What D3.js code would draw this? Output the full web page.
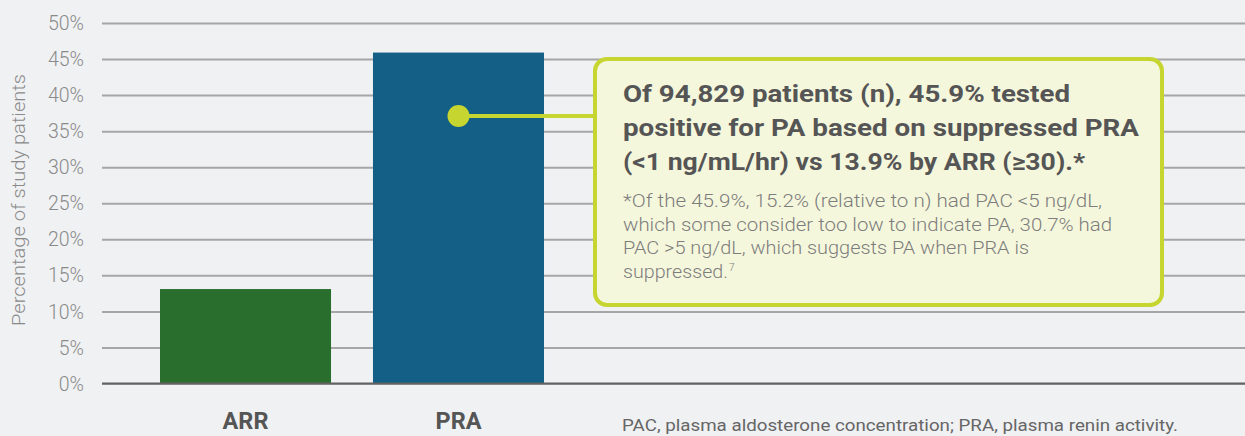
<!DOCTYPE html>
<html><head><meta charset="utf-8">
<script src="https://cdn.jsdelivr.net/npm/d3@7/dist/d3.min.js"></script>
<style>body{margin:0;background:#f0f1f3;}svg{display:block;}</style>
</head><body>
<svg id="c" width="1245" height="436"></svg>
<script>
const categories = ["ARR", "PRA"];
const values = [13.1, 45.9];
const colors = ["#2a6e2e", "#135f85"];
const yTicks = [0,5,10,15,20,25,30,35,40,45,50];
const yTitle = "Percentage of study patients";
const calloutTitle = ["Of 94,829 patients (n), 45.9% tested", "positive for PA based on suppressed PRA", "(<1 ng/mL/hr) vs 13.9% by ARR (≥30).*"];
const calloutNote = ["*Of the 45.9%, 15.2% (relative to n) had PAC <5 ng/dL,", "which some consider too low to indicate PA, 30.7% had", "PAC >5 ng/dL, which suggests PA when PRA is", "suppressed."];
const footnote = "PAC, plasma aldosterone concentration; PRA, plasma renin activity.";

const svg = d3.select("#c");
const W = 1245;
svg.append("rect").attr("width", W).attr("height", 436).attr("fill", "#f0f1f3");

const y = d3.scaleLinear().domain([0, 50]).range([383.5, 23]);
const x = d3.scaleBand().domain(categories).range([138.7, 565.3]).paddingInner(0.197).paddingOuter(0.1);

// gridlines
const yAxis = d3.axisLeft(y).tickValues(yTicks).tickFormat(d => d + "%").tickSize(-(W - 102)).tickPadding(18);
const ga = svg.append("g").attr("transform", "translate(102,0)").call(yAxis);
ga.select(".domain").remove();
ga.selectAll(".tick line").attr("stroke", "#a6a6a6").attr("stroke-width", 2);
ga.selectAll(".tick text").attr("fill", "#8a8a8a").attr("font-family", "Roboto, sans-serif").attr("font-weight", 300).attr("font-size", 19.5).attr("dy", "0.34em");

// bars
svg.selectAll("rect.bar").data(categories).enter().append("rect").attr("class", "bar")
  .attr("x", d => x(d)).attr("width", x.bandwidth())
  .attr("y", (d, i) => y(values[i])).attr("height", (d, i) => y(0) - y(values[i]))
  .attr("fill", (d, i) => colors[i]);

// zero line
svg.append("line").attr("x1", 102).attr("x2", W).attr("y1", y(0)).attr("y2", y(0)).attr("stroke", "#626262").attr("stroke-width", 2);

// category labels
svg.selectAll("text.cat").data(categories).enter().append("text").attr("class", "cat")
  .attr("x", d => x(d) + x.bandwidth() / 2).attr("y", 429).attr("text-anchor", "middle")
  .attr("font-family", "Roboto, sans-serif").attr("font-weight", 700).attr("font-size", 23.5).attr("fill", "#555")
  .text(d => d);

// y title
svg.append("text").attr("transform", "translate(25,200) rotate(-90)").attr("text-anchor", "middle")
  .attr("font-family", "Roboto, sans-serif").attr("font-weight", 300).attr("font-size", 19).attr("fill", "#8a8a8a")
  .attr("textLength", 252).attr("lengthAdjust", "spacingAndGlyphs").text(yTitle);

// callout connector
const dotY = 116;
const dotX = x("PRA") + x.bandwidth() / 2;
svg.append("line").attr("x1", dotX).attr("x2", 596).attr("y1", dotY).attr("y2", dotY).attr("stroke", "#c6d52f").attr("stroke-width", 4);
svg.append("circle").attr("cx", dotX).attr("cy", dotY).attr("r", 11).attr("fill", "#c6d52f");

// callout box
svg.append("rect").attr("x", 595).attr("y", 59).attr("width", 567).attr("height", 246).attr("rx", 12)
  .attr("fill", "#f5f7dc").attr("stroke", "#c6d52f").attr("stroke-width", 4);

const titleW = [447, 516, 462];
calloutTitle.forEach((t, i) => {
  svg.append("text").attr("x", 623).attr("y", 102 + i * 34)
    .attr("font-family", "Roboto, sans-serif").attr("font-weight", 700).attr("font-size", 24.5).attr("fill", "#555")
    .attr("textLength", titleW[i]).attr("lengthAdjust", "spacingAndGlyphs").text(t);
});
const noteW = [479, 489, 406, 105];
calloutNote.forEach((t, i) => {
  const tx = svg.append("text").attr("x", 623).attr("y", 207 + i * 23.5)
    .attr("font-family", "Roboto, sans-serif").attr("font-weight", 300).attr("font-size", 18).attr("fill", "#7d7d7d");
  tx.append("tspan").attr("textLength", noteW[i]).attr("lengthAdjust", "spacingAndGlyphs").text(t);
  if (i === 3) tx.append("tspan").attr("dy", -7).attr("dx", 1).attr("font-size", 10).text("7");
});

// footnote
svg.append("text").attr("x", 622).attr("y", 431).attr("font-family", "Roboto, sans-serif").attr("font-size", 17).attr("fill", "#666")
  .attr("textLength", 556).attr("lengthAdjust", "spacingAndGlyphs").text(footnote);
</script>
</body></html>
